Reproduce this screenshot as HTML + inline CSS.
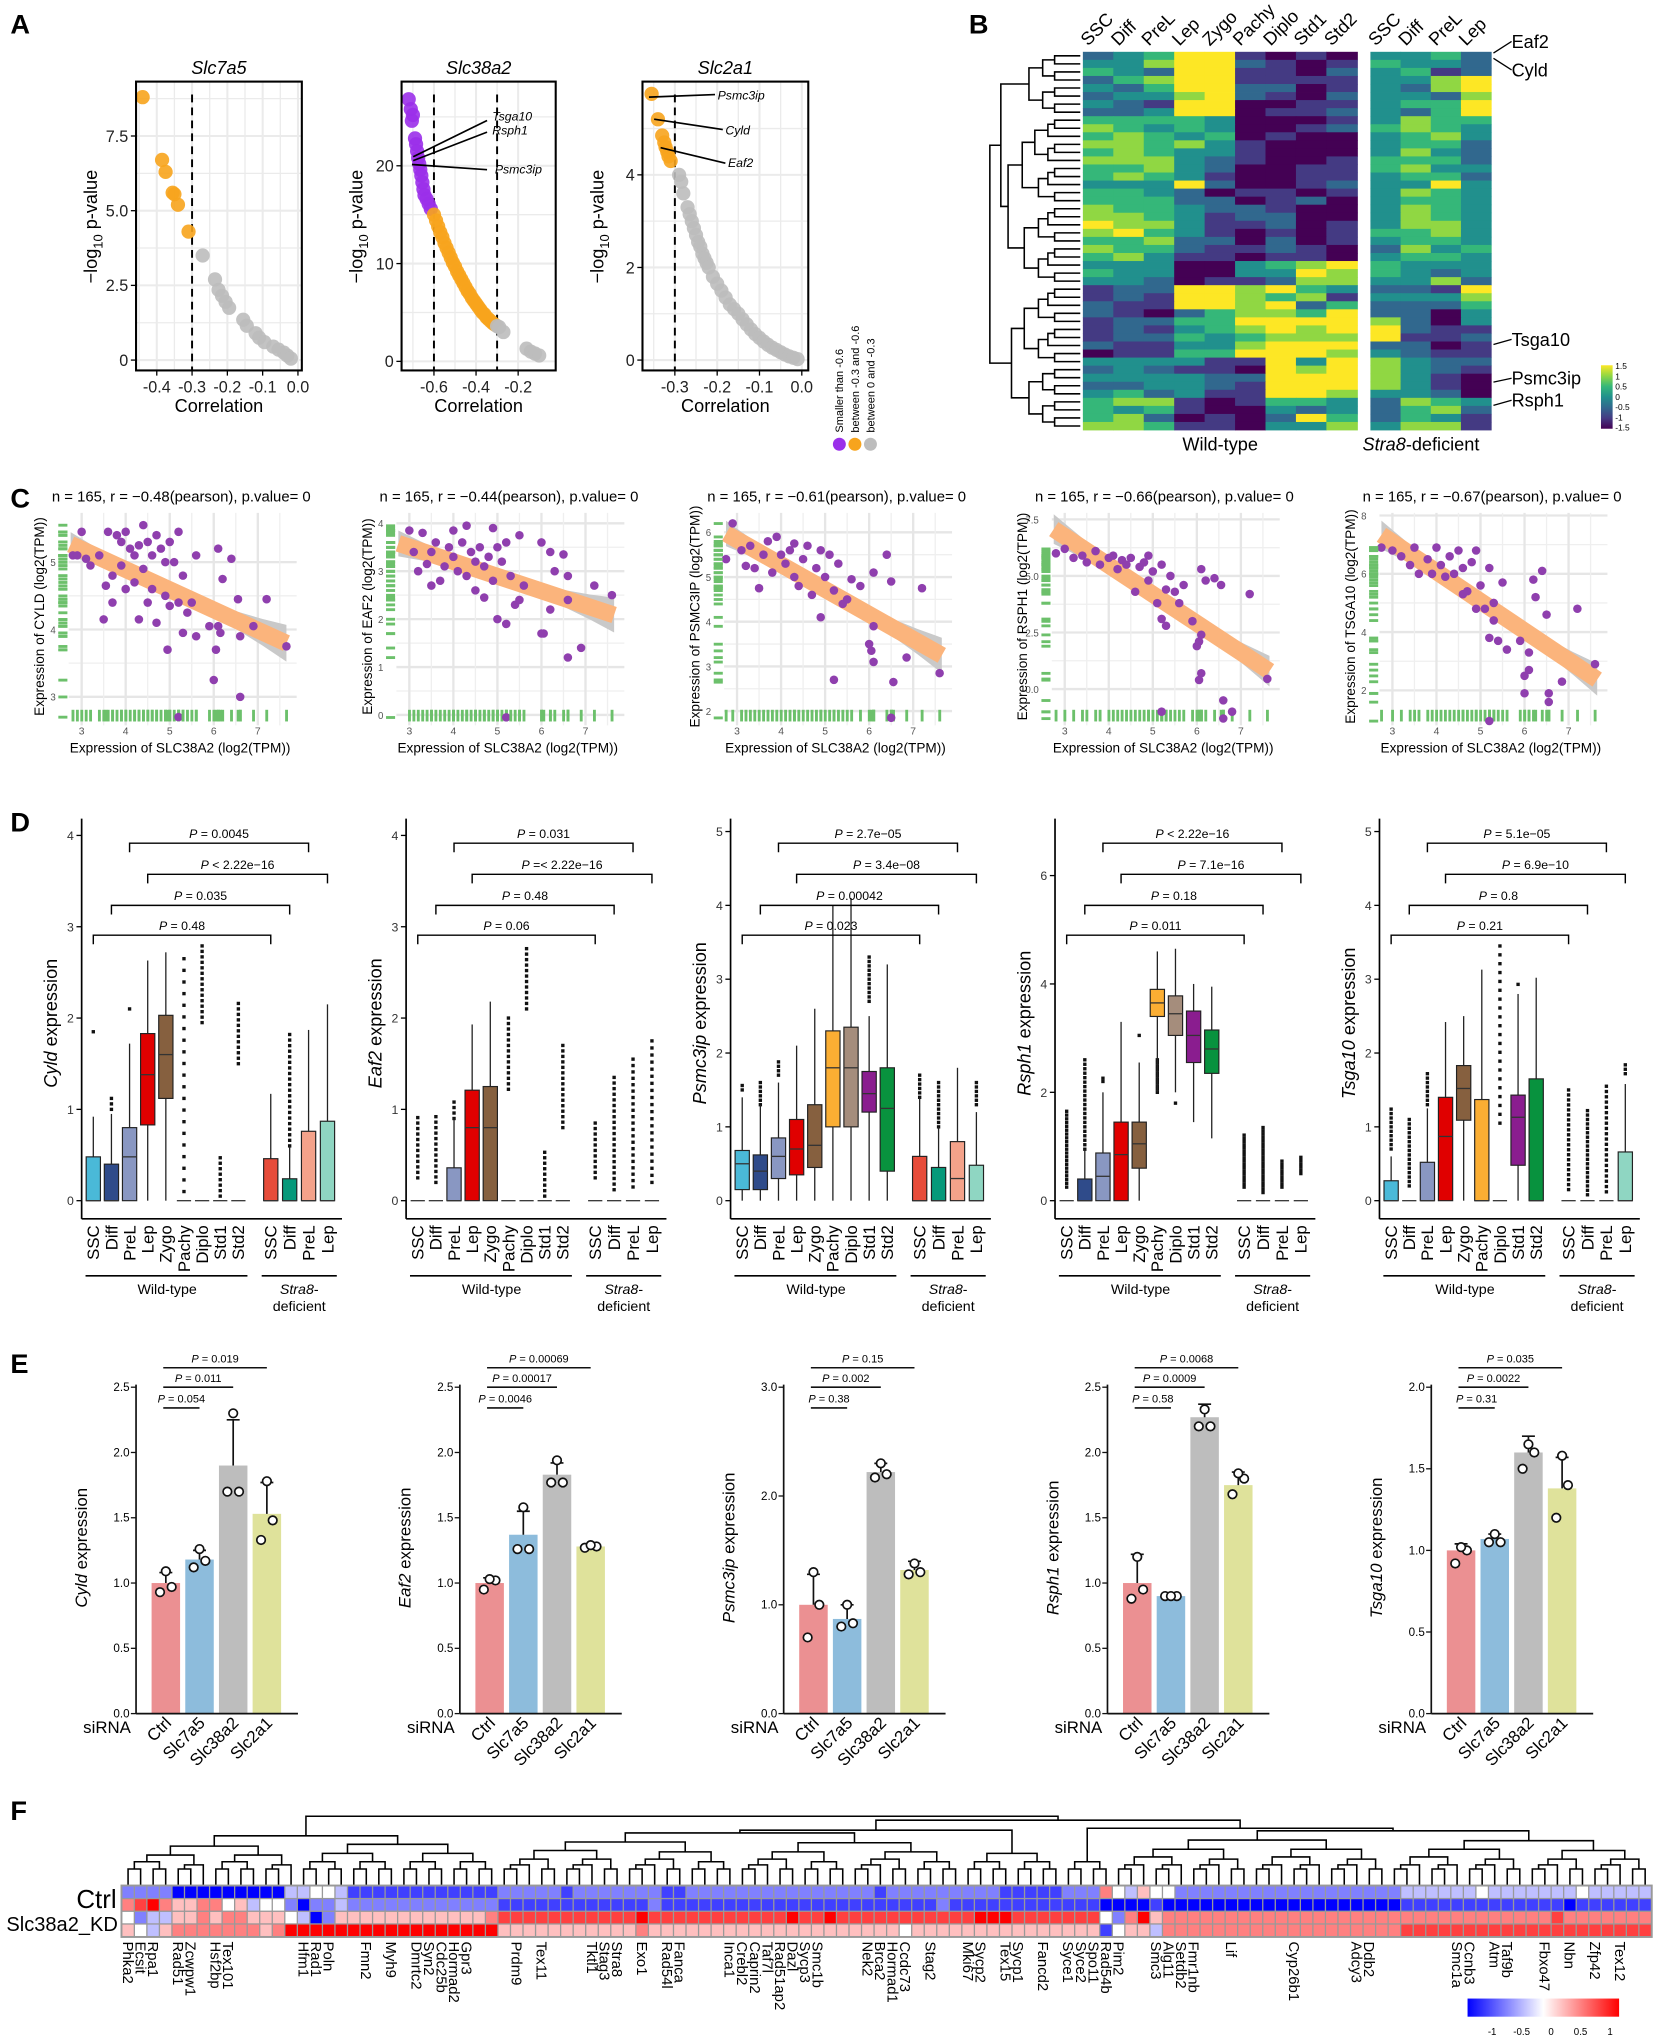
<!DOCTYPE html>
<html><head><meta charset="utf-8"><title>Figure</title>
<style>
html,body{margin:0;padding:0;background:#fff;}
svg{display:block;font-family:"Liberation Sans",Arial,sans-serif;}
</style></head>
<body>
<svg id="fig" xmlns="http://www.w3.org/2000/svg" width="1658" height="2040" viewBox="0 0 1280 1575"></svg>
<script>
// ================= DATA =================
// Panel A
const aSlc7a5Corr=[-0.44,-0.385,-0.375,-0.355,-0.35,-0.34,-0.31,-0.27,-0.235,-0.225,-0.215,-0.205,-0.195,-0.155,-0.145,-0.12,-0.11,-0.095,-0.07,-0.055,-0.04,-0.03,-0.02];
const aSlc7a5LogP=[8.8,6.7,6.3,5.6,5.55,5.2,4.3,3.5,2.7,2.35,2.15,1.95,1.75,1.35,1.15,0.9,0.75,0.6,0.45,0.35,0.25,0.15,0.05];
const aSlc38a2Corr=[-0.72,-0.71,-0.70,-0.705,-0.69,-0.685,-0.68,-0.675,-0.67,-0.665,-0.66,-0.655,-0.65,-0.645,-0.635,-0.625,-0.615,-0.60,-0.59,-0.58,-0.57,-0.56,-0.55,-0.54,-0.53,-0.52,-0.51,-0.50,-0.49,-0.48,-0.47,-0.46,-0.45,-0.44,-0.43,-0.42,-0.41,-0.40,-0.39,-0.38,-0.37,-0.36,-0.35,-0.34,-0.33,-0.32,-0.31,-0.30,-0.29,-0.27,-0.16,-0.14,-0.12,-0.10];
const aSlc38a2LogP=[26.8,25.8,25.2,24.6,22.8,22.2,21.5,20.8,20.2,19.6,19.0,18.3,17.6,17.0,16.6,16.1,15.6,15.0,14.4,13.8,13.2,12.7,12.1,11.6,11.1,10.6,10.1,9.7,9.2,8.8,8.4,8.0,7.6,7.2,6.9,6.5,6.2,5.9,5.6,5.3,5.0,4.8,4.5,4.3,4.1,3.9,3.75,3.6,3.5,3.0,1.3,1.0,0.8,0.6];
const aSlc2a1Corr=[-0.355,-0.34,-0.33,-0.325,-0.322,-0.318,-0.315,-0.31,-0.29,-0.285,-0.28,-0.27,-0.265,-0.26,-0.255,-0.25,-0.245,-0.24,-0.235,-0.23,-0.225,-0.22,-0.21,-0.2,-0.19,-0.18,-0.17,-0.16,-0.15,-0.14,-0.13,-0.12,-0.11,-0.10,-0.09,-0.08,-0.07,-0.06,-0.05,-0.04,-0.03,-0.02,-0.01];
const aSlc2a1LogP=[5.75,5.2,4.85,4.7,4.6,4.5,4.4,4.3,4.0,3.85,3.6,3.3,3.15,3.0,2.85,2.7,2.55,2.45,2.3,2.2,2.1,2.0,1.8,1.65,1.5,1.35,1.2,1.1,1.0,0.88,0.77,0.66,0.56,0.48,0.40,0.33,0.27,0.22,0.17,0.12,0.08,0.05,0.02];
const aXTicks1=[-0.4,-0.3,-0.2,-0.1,0.0], aXTickLabels1=['-0.4','-0.3','-0.2','-0.1','0.0'];
const aYTicks1=[0,2.5,5,7.5], aYTickLabels1=['0','2.5','5.0','7.5'];
const aXTicks2=[-0.6,-0.4,-0.2], aXTickLabels2=['-0.6','-0.4','-0.2'];
const aYTicks2=[0,10,20], aYTickLabels2=['0','10','20'];
const aXTicks3=[-0.3,-0.2,-0.1,0.0], aXTickLabels3=['-0.3','-0.2','-0.1','0.0'];
const aYTicks3=[0,2,4], aYTickLabels3=['0','2','4'];

// Panel B heatmap (levels 0..6 => -1.5..1.5)
const bColumns=['SSC','Diff','PreL','Lep','Zygo','Pachy','Diplo','Std1','Std2','SSC','Diff','PreL','Lep'];
const bRows=["2346610103342","3356621014332","4326611023412","2456611113356","3246622013256","2335621023325","3216600113446","2236601123246",
"4444300013544","5434300124543","4543401003453","5545310003442","4543310003532","5553210014442","4453200114533","4543100113442","3336200123363","4432011013543","4442201203443",
"5443221003543","5543122003543","6553112013553","5643101014453","4452202013443","5442112102534","4531101103443",
"3330034564333","4330033654323","3320112553352",
"1226656432216","1216654513335","2116656242224","2102455462203","1224466665203","1213456566211","1224345556112","2113356662201","0114466653211","3333116365322","2321106565321","3333226665310","2233216665310","3423116653320","4551014432543","4341003232452","4520102642431","5541103353551"];
const bScaleLabels=['1.5','1','0.5','0','-0.5','-1','-1.5'];

// Panel C scatter
const cGenes=['CYLD','EAF2','PSMC3IP','RSPH1','TSGA10'];
const cTitles=['n = 165, r = \u22120.48(pearson), p.value= 0','n = 165, r = \u22120.44(pearson), p.value= 0','n = 165, r = \u22120.61(pearson), p.value= 0','n = 165, r = \u22120.66(pearson), p.value= 0','n = 165, r = \u22120.67(pearson), p.value= 0'];
const cXTicks=[3,4,5,6,7];
const cCyld=[[2.8,5.1],[2.9,5.1],[3.0,5.45],[3.1,5.05],[3.2,4.95],[3.4,5.1],[3.5,4.15],[3.55,4.65],[3.6,5.45],[3.7,4.4],[3.7,4.8],[3.8,5.4],[3.9,5.3],[3.9,4.95],[4.0,5.45],[4.0,4.6],[4.1,5.2],[4.2,5.1],[4.2,4.7],[4.3,5.25],[4.3,4.15],[4.4,5.55],[4.4,4.9],[4.5,4.4],[4.5,5.3],[4.6,4.6],[4.6,5.1],[4.7,4.1],[4.7,5.4],[4.8,5.2],[4.9,4.5],[4.9,5.0],[5.0,5.3],[5.0,4.35],[5.1,5.0],[5.2,5.45],[5.2,4.4],[5.2,2.7],[4.95,3.7],[5.3,4.8],[5.3,3.95],[5.4,4.25],[5.5,4.4],[5.6,5.1],[5.6,3.9],[5.9,4.05],[6.0,3.25],[6.05,3.7],[6.1,4.05],[6.15,3.95],[6.2,4.75],[6.1,5.2],[6.4,5.05],[6.55,4.45],[6.6,3.9],[6.6,3.0],[6.9,4.05],[7.2,4.45],[7.65,3.75]];
const cEaf2=[[3.0,3.85],[3.1,3.4],[3.2,3.0],[3.3,3.8],[3.4,3.15],[3.5,3.4],[3.5,2.7],[3.6,3.6],[3.7,2.8],[3.8,3.1],[3.9,3.5],[4.0,3.85],[4.0,3.3],[4.1,3.0],[4.2,3.6],[4.3,3.95],[4.3,2.9],[4.4,3.4],[4.5,3.2],[4.5,2.6],[4.6,3.5],[4.7,2.45],[4.7,3.1],[4.8,3.3],[4.9,3.9],[4.9,2.8],[5.0,3.5],[5.0,2.0],[5.1,3.2],[5.2,3.6],[5.2,1.9],[5.2,-0.05],[5.3,2.9],[5.4,2.3],[5.5,3.75],[5.5,2.4],[5.6,2.7],[6.0,3.6],[6.0,1.7],[6.05,1.7],[6.2,3.4],[6.2,2.2],[6.3,3.0],[6.5,3.35],[6.6,2.4],[6.6,2.9],[6.6,1.2],[6.9,1.4],[7.2,2.7],[7.6,2.5]];
const cPsmc3ip=[[2.75,5.4],[2.9,6.2],[3.1,5.6],[3.2,5.25],[3.3,5.7],[3.4,5.2],[3.5,4.75],[3.6,5.5],[3.7,5.8],[3.8,5.1],[3.9,5.9],[4.0,5.5],[4.1,5.3],[4.2,5.6],[4.3,5.0],[4.3,5.75],[4.4,4.8],[4.5,5.4],[4.6,5.7],[4.7,4.6],[4.8,5.2],[4.9,5.6],[4.9,4.1],[5.0,5.0],[5.1,5.5],[5.2,4.7],[5.2,2.7],[5.3,5.3],[5.4,4.4],[5.5,4.5],[5.6,4.95],[5.8,4.8],[6.1,5.1],[6.0,3.5],[6.05,3.35],[6.1,3.9],[6.1,3.1],[6.4,5.5],[6.5,4.9],[6.55,2.65],[6.5,1.85],[6.85,3.2],[7.2,4.75],[7.6,2.85]];
const cRsph1=[[2.8,6.0],[3.0,6.2],[3.2,5.8],[3.4,5.9],[3.5,5.6],[3.7,6.1],[3.8,5.5],[4.0,5.8],[4.1,5.9],[4.2,5.3],[4.3,5.7],[4.4,5.5],[4.5,5.8],[4.6,4.3],[4.7,5.4],[4.8,5.6],[4.9,4.8],[4.9,5.9],[5.0,5.2],[5.1,3.8],[5.2,5.5],[5.2,3.1],[5.3,4.4],[5.3,2.8],[5.4,5.0],[5.5,4.3],[5.6,3.8],[5.7,4.6],[5.9,3.0],[6.0,1.9],[6.05,2.1],[6.1,2.4],[6.1,5.3],[6.05,0.4],[6.1,0.7],[6.2,4.8],[6.4,4.9],[6.55,4.6],[6.6,-0.5],[6.6,-1.3],[6.8,-1.0],[7.2,4.2],[7.6,0.45],[5.2,-1.0]];
const cTsga10=[[2.75,6.9],[3.0,6.8],[3.2,6.6],[3.4,6.3],[3.5,6.9],[3.6,6.0],[3.8,6.5],[3.9,6.0],[4.0,6.9],[4.1,6.3],[4.2,5.9],[4.3,6.6],[4.4,6.0],[4.5,6.8],[4.6,5.3],[4.6,6.2],[4.7,5.4],[4.8,6.4],[4.9,4.8],[4.9,6.8],[5.0,5.6],[5.1,4.8],[5.2,6.2],[5.2,3.8],[5.3,5.0],[5.3,4.4],[5.4,3.7],[5.5,5.7],[5.6,3.4],[5.9,3.7],[6.1,3.3],[6.2,5.8],[6.25,5.2],[6.0,2.5],[6.1,2.7],[6.0,1.9],[6.4,6.1],[6.5,4.6],[6.55,1.9],[6.55,1.6],[6.85,2.3],[7.2,4.8],[7.6,2.9],[5.2,0.95]];
const cYTicksCyld=[3,4,5], cYTicksEaf2=[0,1,2,3,4], cYTicksPsmc=[2,3,4,5,6], cYTicksRsph=[0,2.5,5,7.5], cYTicksTsga=[2,4,6,8];
const cYTickLabelsRsph=['0.0','2.5','5.0','7.5'];

// Panel D boxplots: [lowWhisker,q1,median,q3,highWhisker]
const dGroups=['SSC','Diff','PreL','Lep','Zygo','Pachy','Diplo','Std1','Std2','SSC','Diff','PreL','Lep'];
const dGenes=['Cyld','Eaf2','Psmc3ip','Rsph1','Tsga10'];
const dCyldBox=[[0,0,0,0.48,0.92],[0,0,0,0.4,0.95],[0,0,0.48,0.8,1.72],[0,0.83,1.38,1.83,2.63],[0,1.12,1.6,2.03,2.72],[0,0,0,0,0],[0,0,0,0,0],[0,0,0,0,0],[0,0,0,0,0],[0,0,0,0.46,1.17],[0,0,0,0.24,0.6],[0,0,0,0.76,1.87],[0,0,0,0.87,2.15]];
const dCyldOut=[[1.85,1.85],[1.0,1.15],[2.1,2.1],null,null,[0.1,2.65],[1.95,2.8],[0.05,0.5],[1.5,2.18],null,[0.6,1.82],null,null];
const dEaf2Box=[[0,0,0,0,0],[0,0,0,0,0],[0,0,0,0.36,0.9],[0,0,0.8,1.21,1.93],[0,0,0.8,1.25,2.18],[0,0,0,0,0],[0,0,0,0,0],[0,0,0,0,0],[0,0,0,0,0],[0,0,0,0,0],[0,0,0,0,0],[0,0,0,0,0],[0,0,0,0,0]];
const dEaf2Out=[[0.25,0.95],[0.2,0.97],[0.9,1.12],null,null,[1.22,2.05],[2.1,2.78],[0.05,0.55],[0.8,1.72],[0.25,0.88],[0.12,1.35],[0.15,1.55],[0.2,1.75]];
const dPsmcBox=[[0,0.15,0.5,0.68,1.4],[0,0.15,0.4,0.62,1.3],[0,0.3,0.6,0.85,1.6],[0,0.35,0.7,1.1,2.1],[0,0.45,0.75,1.3,2.6],[0,1.0,1.8,2.3,4.0],[0,1.0,1.8,2.35,4.1],[0,1.2,1.45,1.75,2.5],[0,0.4,1.25,1.8,3.2],[0,0,0,0.6,1.4],[0,0,0,0.45,1.0],[0,0,0.3,0.8,1.8],[0,0,0,0.48,1.2]];
const dPsmcOut=[[1.5,1.6],[1.3,1.65],[1.7,1.9],null,null,null,null,[2.7,3.3],null,[1.4,1.7],[1.0,1.6],null,[1.3,1.6]];
const dRsphBox=[[0,0,0,0,0],[0,0,0,0.4,0.95],[0,0,0.45,0.88,2.0],[0,0,0.85,1.45,3.3],[0,0.6,1.05,1.45,2.55],[2.0,3.4,3.65,3.9,4.6],[2.0,3.05,3.45,3.78,4.65],[1.45,2.55,3.05,3.5,4.0],[1.15,2.35,2.8,3.15,3.95],[0,0,0,0,0],[0,0,0,0,0],[0,0,0,0,0],[0,0,0,0,0]];
const dRsphOut=[[0.25,1.65],[0.95,2.6],[2.2,2.3],null,[3.05,3.05],[2.0,2.65],[1.8,1.8],null,null,[0.25,1.25],[0.15,1.35],[0.25,0.75],[0.5,0.85]];
const dTsgaBox=[[0,0,0,0.27,0.6],[0,0,0,0,0],[0,0,0,0.52,1.25],[0,0,0.87,1.4,2.42],[0,1.09,1.52,1.83,2.5],[0,0,0,1.37,3.13],[0,0,0,0,0],[0,0.48,1.13,1.43,2.8],[0,0,0,1.65,3.02],[0,0,0,0,0],[0,0,0,0,0],[0,0,0,0,0],[0,0,0,0.66,1.58]];
const dTsgaOut=[[0.7,1.27],[0.2,1.15],[1.3,1.72],null,null,null,[1.05,3.45],[2.93,2.93],null,[0.15,1.5],[0.08,1.25],[0.12,1.55],[1.72,1.88]];
const dYTicksCyld=[0,1,2,3,4], dYTicksEaf2=[0,1,2,3,4], dYTicksPsmc=[0,1,2,3,4,5], dYTicksRsph=[0,2,4,6], dYTicksTsga=[0,1,2,3,4,5];
const dPLabelsCyld=['= 0.0045','< 2.22e\u221216','= 0.035','= 0.48'];
const dPLabelsEaf2=['= 0.031','=< 2.22e\u221216','= 0.48','= 0.06'];
const dPLabelsPsmc=['= 2.7e\u221205','= 3.4e\u221208','= 0.00042','= 0.023'];
const dPLabelsRsph=['< 2.22e\u221216','= 7.1e\u221216','= 0.18','= 0.011'];
const dPLabelsTsga=['= 5.1e\u221205','= 6.9e\u221210','= 0.8','= 0.21'];
const dPPairs=[[2,11],[3,12],[1,10],[0,9]];

// Panel E bars
const eGroups=['Ctrl','Slc7a5','Slc38a2','Slc2a1'];
const eCyldMean=[1.0,1.18,1.9,1.53], eCyldTop=[1.08,1.25,2.25,1.77], eCyldDots=[[0.93,0.97,1.09],[1.12,1.17,1.26],[1.7,1.7,2.3],[1.33,1.48,1.78]];
const eEaf2Mean=[1.0,1.37,1.83,1.28], eEaf2Top=[1.04,1.55,1.92,1.29], eEaf2Dots=[[0.95,1.02,1.03],[1.26,1.26,1.58],[1.77,1.77,1.94],[1.27,1.28,1.29]];
const ePsmcMean=[1.0,0.87,2.22,1.32], ePsmcTop=[1.28,1.0,2.3,1.4], ePsmcDots=[[0.7,1.0,1.3],[0.8,0.83,1.0],[2.17,2.2,2.3],[1.28,1.3,1.38]];
const eRsphMean=[1.0,0.9,2.27,1.75], eRsphTop=[1.22,0.92,2.37,1.85], eRsphDots=[[0.88,0.95,1.2],[0.9,0.9,0.9],[2.2,2.2,2.33],[1.68,1.8,1.84]];
const eTsgaMean=[1.0,1.07,1.6,1.38], eTsgaTop=[1.04,1.1,1.7,1.57], eTsgaDots=[[0.92,1.0,1.02],[1.05,1.05,1.1],[1.5,1.6,1.65],[1.2,1.4,1.58]];
const ePCyld=['0.054','0.011','0.019'], ePEaf2=['0.0046','0.00017','0.00069'], ePPsmc=['0.38','0.002','0.15'], ePRsph=['0.58','0.0009','0.0068'], ePTsga=['0.31','0.0022','0.035'];
const eYTicks25=[0,0.5,1,1.5,2,2.5], eYTickLabels25=['0.0','0.5','1.0','1.5','2.0','2.5'];
const eYTicks30=[0,1,2,3], eYTickLabels30=['0.0','1.0','2.0','3.0'];
const eYTicks20=[0,0.5,1,1.5,2], eYTickLabels20=['0.0','0.5','1.0','1.5','2.0'];

// Panel F heatmap (levels 0..8 => -1..1)
const fRows=[
"2222"+"000000000"+"33443"+"111111111111"+"222221222222211222222222222222122222222211111222"+"643544"+"222222222222222222"+"33333343333333433333",
"6786"+"556645344"+"20223"+"222222222222"+"111111111111211111111111111111111112111111111111"+"000010"+"000000000000000000"+"11111111111110111111",
"4233"+"556566555"+"43025"+"555555555556"+"777777777778777777777778778777777777778887777777"+"426856"+"666666666666666666"+"66666666666676666666",
"5435"+"666666656"+"88888"+"888888888888"+"555555555556555555555555555555554555555555555555"+"145536"+"666666666666666666"+"77777777777777777777"];
const fGeneLabels=['Phka2','Ecsit','Rpa1','Rad51','Zcwpw1','Hsf2bp','Tex101','Hfm1','Rad1','Poln','Fmn2','Myh9','Dmrtc2','Syn2','Cdc25b','Hormad2','Gpr3','Prdm9','Tex11','Tktl1','Stag3','Stra8','Exo1','Rad54l','Fanca','Inca1','Crebl2','Caprin2','Taf7l','Rad51ap2','Dazl','Sycp3','Smc1b','Nek2','Brca2','Hormad1','Ccdc73','Stag2','Mki67','Sycp2','Tex15','Sycp1','Fancd2','Syce1','Syce2','Spo11','Rad54b','Pim2','Smc3','Alg11','Setdb2','Fmr1nb','Lif','Cyp26b1','Adcy3','Ddb2','Smc1a','Ccnb3','Atm','Taf9b','Fbxo47','Nbn','Zfp42','Tex12'];
const fGeneCols=[0,1,2,4,5,7,8,14,15,16,19,21,23,24,25,26,27,31,33,37,38,39,41,43,44,48,49,50,51,52,53,54,55,59,60,61,62,64,67,68,70,71,73,75,76,77,78,79,82,83,84,85,88,93,98,99,106,107,109,110,113,115,117,119];
const fScaleTicks=[-1,-0.5,0,0.5,1], fScaleLabels=['-1','-0.5','0','0.5','1'];

// ================= DRAWING =================
const NS='http://www.w3.org/2000/svg';
const svg=document.getElementById('fig');
function mk(tag,attrs,parent,text){const e=document.createElementNS(NS,tag);for(const k in attrs)e.setAttribute(k,attrs[k]);if(text!==undefined)e.textContent=text;(parent||svg).appendChild(e);return e;}
function lin(d0,d1,r0,r1){return v=>r0+(v-d0)*(r1-r0)/(d1-d0);}

[['A',8,26],['B',748,26],['C',8,392],['D',8,642],['E',8,1060],['F',8,1405]].forEach(p=>{
  const t=mk('text',{x:p[1],y:p[2],'font-size':21,'font-weight':'bold'},svg,p[0]);
  
  
});

// ---------- Panel A ----------
const aCfg=[
 {title:'Slc7a5',corr:aSlc7a5Corr,lp:aSlc7a5LogP,fx0:105,fx1:233,sx:lin(-0.4,0,121,230),sy:lin(0,7.5,278,105),xt:aXTicks1,xl:aXTickLabels1,yt:aYTicks1,yl:aYTickLabels1,dash:[-0.3],minorY:1.25,minorX:0.05},
 {title:'Slc38a2',corr:aSlc38a2Corr,lp:aSlc38a2LogP,fx0:310,fx1:429,sx:lin(-0.6,-0.2,335,400),sy:lin(0,20,279,128),xt:aXTicks2,xl:aXTickLabels2,yt:aYTicks2,yl:aYTickLabels2,dash:[-0.6,-0.3],minorY:5,minorX:0.1},
 {title:'Slc2a1',corr:aSlc2a1Corr,lp:aSlc2a1LogP,fx0:496,fx1:624,sx:lin(-0.3,0,521,619),sy:lin(0,4,278,135),xt:aXTicks3,xl:aXTickLabels3,yt:aYTicks3,yl:aYTickLabels3,dash:[-0.3],minorY:1,minorX:0.05}];
aCfg.forEach((c,pi)=>{
  const g=mk('g',{},svg);
  
  
  const fy0=63,fy1=286;
  c.yt.forEach(v=>{[v,v+c.minorY].forEach((vv,k)=>{const y=c.sy(vv);if(y>fy0&&y<fy1){const l=mk('line',{x1:c.fx0,x2:c.fx1,y1:y,y2:y,stroke:'#ebebeb','stroke-width':k?1:1.6},g);}});});
  c.xt.forEach(v=>{[v,v-c.minorX].forEach((vv,k)=>{const x=c.sx(vv);if(x>c.fx0&&x<c.fx1){const l=mk('line',{x1:x,x2:x,y1:fy0,y2:fy1,stroke:'#ebebeb','stroke-width':k?1:1.6},g);}});});
  c.dash.forEach(v=>{const l=mk('line',{x1:c.sx(v),x2:c.sx(v),y1:fy0+10,y2:fy1,stroke:'#000','stroke-width':1.5,'stroke-dasharray':'6,4'},g);});
  c.corr.forEach((v,i)=>{
    const col=v<-0.6?'#9b30ea':(v<-0.3?'#f7a41d':'#bdbdbd');
    const p=mk('circle',{cx:c.sx(v),cy:c.sy(c.lp[i]),r:5.5,fill:col,'fill-opacity':0.9},g);
    
    
  });
  const fr=mk('rect',{x:c.fx0,y:fy0,width:c.fx1-c.fx0,height:fy1-fy0,fill:'none',stroke:'#000','stroke-width':1.6},g);
  
  c.xt.forEach((v,i)=>{const x=c.sx(v);mk('line',{x1:x,x2:x,y1:fy1,y2:fy1+4,stroke:'#000'},g);const t=mk('text',{x:x,y:fy1+17,'font-size':12.5,'text-anchor':'middle',fill:'#222'},g,c.xl[i]);});
  c.yt.forEach((v,i)=>{const y=c.sy(v);mk('line',{x1:c.fx0-4,x2:c.fx0,y1:y,y2:y,stroke:'#000'},g);const t=mk('text',{x:c.fx0-6,y:y+4.5,'font-size':12.5,'text-anchor':'end',fill:'#222'},g,c.yl[i]);});
  const tt=mk('text',{x:(c.fx0+c.fx1)/2,y:57,'font-size':14,'font-style':'italic','text-anchor':'middle'},g,c.title);
  
  const xl=mk('text',{x:(c.fx0+c.fx1)/2,y:318,'font-size':14,'text-anchor':'middle'},g,'Correlation');
  
  const yl=mk('text',{x:0,y:0,'font-size':14,'text-anchor':'middle',transform:`translate(${c.fx0-30},175) rotate(-90)`},g);
  
  mk('tspan',{},yl,'\u2212log');mk('tspan',{'font-size':10,dy:4},yl,'10');mk('tspan',{dy:-4},yl,' p-value');
});
[[319,121,376,93,380,93,'Tsga10'],[319,124,376,102,380,104,'Rsph1'],[318,127,376,131,382,134,'Psmc3ip'],[501,75,552,73,554,77,'Psmc3ip'],[505,92,558,100,560,104,'Cyld'],[510,114,560,126,562,129,'Eaf2']].forEach(a=>{
  const l=mk('line',{x1:a[0],y1:a[1],x2:a[2],y2:a[3],stroke:'#000','stroke-width':1.3});
  
  const t=mk('text',{x:a[4],y:a[5],'font-size':9.5,'font-style':'italic'},svg,a[6]);
  
});
[['#9b30ea','Smaller than -0.6'],['#f7a41d','between -0.3 and -0.6'],['#bdbdbd','between 0 and -0.3']].forEach((d,i)=>{
  const x=648+12*i;
  const c=mk('circle',{cx:x,cy:343,r:5,fill:d[0]});
  
  const t=mk('text',{x:0,y:0,'font-size':8.5,transform:`translate(${x+3},334) rotate(-90)`},svg,d[1]);
  
});

// ---------- Panel B ----------
const viridis=['#440154','#443a83','#31688e','#21908d','#35b779','#90d743','#fde725'];
const bTop=40,bBot=332,bRowH=(bBot-bTop)/bRows.length;
const bColX=[836,859.5,883,906.5,930,953.5,977,1000.5,1024,1058,1081.3,1104.6,1127.9];
const bColW=[23.6,23.6,23.6,23.6,23.6,23.6,23.6,23.6,24,23.4,23.4,23.4,23.4];
const gB=mk('g',{},svg);

bRows.forEach((row,r)=>{for(let c=0;c<bColumns.length;c++){const lv=parseInt(row.charAt(c));if(isNaN(lv))continue;
  const cell=mk('rect',{x:bColX[c],y:bTop+r*bRowH,width:bColW[c]+0.3,height:bRowH+0.3,fill:viridis[lv]},gB);
  }});
bColumns.forEach((n,c)=>{const x=bColX[c]+4;const t=mk('text',{x:0,y:0,'font-size':14,transform:`translate(${x},36) rotate(-45)`},svg,n);});
function tree(lo,hi,leafPos,base,scale,dir,splits){
  if(lo===hi)return {p:leafPos(lo),h:base};
  const n=hi-lo+1;
  const m=(splits[lo+'-'+hi]!==undefined)?splits[lo+'-'+hi]:Math.floor((lo+hi)/2);
  const a=tree(lo,m,leafPos,base,scale,dir,splits),b=tree(m+1,hi,leafPos,base,scale,dir,splits);
  const h=base-dir*scale*Math.log2(n+1);
  const hh=Math.min(h,a.h-2,b.h-2);
  return {p:(a.p+b.p)/2,h:hh,a,b};
}
function drawTree(node,horiz,g,name){
  if(!node.a)return;
  const d=horiz?`M${node.a.h},${node.a.p}H${node.h}V${node.b.p}H${node.b.h}`:`M${node.a.p},${node.a.h}V${node.h}H${node.b.p}V${node.b.h}`;
  const p=mk('path',{d:d,fill:'none',stroke:'#000','stroke-width':1.2},g);
  
  
  drawTree(node.a,horiz,g,name);drawTree(node.b,horiz,g,name);
}
const bTree=tree(0,bRows.length-1,i=>bTop+(i+0.5)*bRowH,834,12.5,1,{'0-46':28,'0-28':7,'29-46':38});
drawTree(bTree,true,svg,'row-dendrogram');
const wt=mk('text',{x:942,y:348,'font-size':14,'text-anchor':'middle'},svg,'Wild-type');

const st=mk('text',{x:1097,y:348,'font-size':14,'text-anchor':'middle'},svg);

mk('tspan',{'font-style':'italic'},st,'Stra8');mk('tspan',{},st,'-deficient');
[['Eaf2',41,36],['Cyld',45,58],['Tsga10',266,266],['Psmc3ip',295,296],['Rsph1',313,313]].forEach(d=>{
  const l=mk('line',{x1:1153,y1:d[1],x2:1167,y2:d[2]-4,stroke:'#000'});
  
  const t=mk('text',{x:1167,y:d[2]+1,'font-size':14},svg,d[0]);
  
});
const gradB=mk('linearGradient',{id:'vir',x1:0,y1:1,x2:0,y2:0},mk('defs',{}));
viridis.forEach((c,i)=>mk('stop',{offset:(i/6*100)+'%','stop-color':c},gradB));
const cbB=mk('rect',{x:1236,y:282,width:9,height:49,fill:'url(#vir)'});

bScaleLabels.forEach((s,i)=>{const t=mk('text',{x:1247,y:285+i*7.9,'font-size':6.5},svg,s);});

// ---------- Panel C ----------
const cData=[cCyld,cEaf2,cPsmc3ip,cRsph1,cTsga10];
const cY=[lin(5,4,434,486),lin(4,0,404,552),lin(6,2,411,549),lin(7.5,0,401,532),lin(8,2,398,533)];
const cYT=[cYTicksCyld,cYTicksEaf2,cYTicksPsmc,cYTicksRsph,cYTicksTsga];
const cYL=[cYTicksCyld.map(String),cYTicksEaf2.map(String),cYTicksPsmc.map(String),cYTickLabelsRsph,cYTicksTsga.map(String)];
cData.forEach((pts,k)=>{
  const ox=253*k, sx=lin(3,7,ox+63,ox+199), sy=cY[k];
  const g=mk('g',{},svg);
  
  
  const left=ox+53,right=ox+229,top=396,bot=560;
  cYT[k].forEach((v,i)=>{const y=sy(v);mk('line',{x1:left,x2:right,y1:y,y2:y,stroke:'#e6e6e6','stroke-width':1.8},g);
    if(i<cYT[k].length-1){const y2=(y+sy(cYT[k][i+1]))/2;mk('line',{x1:left,x2:right,y1:y2,y2:y2,stroke:'#efefef','stroke-width':1},g);}
    const t=mk('text',{x:left-10,y:y+3,'font-size':7.5,'text-anchor':'end',fill:'#555'},g,cYL[k][i]);});
  cXTicks.forEach((v,i)=>{const x=sx(v);mk('line',{x1:x,x2:x,y1:top,y2:bot,stroke:'#e6e6e6','stroke-width':1.8},g);mk('line',{x1:x+17,x2:x+17,y1:top,y2:bot,stroke:'#efefef','stroke-width':1},g);
    const t=mk('text',{x:x,y:567,'font-size':8,'text-anchor':'middle',fill:'#555'},g,String(v));});
  const n=pts.length;let mx=0,my=0;pts.forEach(p=>{mx+=p[0];my+=p[1];});mx/=n;my/=n;
  let sxy=0,sxx=0;pts.forEach(p=>{sxy+=(p[0]-mx)*(p[1]-my);sxx+=(p[0]-mx)*(p[0]-mx);});
  const b=sxy/sxx,a=my-b*mx;
  const xs=[2.75,3.5,4.25,5,5.75,6.5,7.1,7.65];
  const ci=x=>3+9*Math.pow((x-mx)/2.5,2);
  const upG=xs.map(x=>[sx(x),sy(a+b*x)-ci(x)]),dnG=xs.map(x=>[sx(x),sy(a+b*x)+ci(x)]).reverse();
  const gp=mk('polygon',{points:upG.concat(dnG).map(p=>p.join(',')).join(' '),fill:'#c9c9c9'},g);
  
  const fl=mk('line',{x1:sx(2.75),y1:sy(a+b*2.75),x2:sx(7.65),y2:sy(a+b*7.65),stroke:'#fbb47c','stroke-width':13},g);
  
  pts.forEach(p=>{
    const r1=mk('rect',{x:ox+45,y:sy(p[1])-1,width:7,height:2.2,fill:'#6cc06b'},g);
    
    const r2=mk('rect',{x:sx(p[0])-1,y:548,width:2.2,height:9,fill:'#6cc06b'},g);
    
    const c=mk('circle',{cx:sx(p[0]),cy:sy(p[1]),r:3.3,fill:'#8f3fae'},g);
    
  });
  const tt=mk('text',{x:ox+40,y:387,'font-size':11.5},g,cTitles[k]);
  
  const xl=mk('text',{x:ox+139,y:581,'font-size':10.5,'text-anchor':'middle'},g,'Expression of SLC38A2 (log2(TPM))');
  
  const yl=mk('text',{x:0,y:0,'font-size':10.5,'text-anchor':'middle',transform:`translate(${ox+34},476) rotate(-90)`},g,'Expression of '+cGenes[k]+' (log2(TPM))');
  
});

// ---------- Panel D ----------
const dColors=['#4ab9d8','#2f4b8a','#8997c2','#e00000','#86603f','#fbae33','#a58d7c','#8a1d8f','#08923e','#e74c3a','#06997a','#f4a28a','#8fd6c2'];
const dBoxes=[dCyldBox,dEaf2Box,dPsmcBox,dRsphBox,dTsgaBox];
const dOuts=[dCyldOut,dEaf2Out,dPsmcOut,dRsphOut,dTsgaOut];
const dUnits=[[4,645],[4,645],[5,642],[6,676],[5,642]];
const dYT=[dYTicksCyld,dYTicksEaf2,dYTicksPsmc,dYTicksRsph,dYTicksTsga];
const dPL=[dPLabelsCyld,dPLabelsEaf2,dPLabelsPsmc,dPLabelsRsph,dPLabelsTsga];
dGenes.forEach((gene,k)=>{
  const ax=63+250.5*k, sy=lin(0,dUnits[k][0],927,dUnits[k][1]);
  const cx=i=>i<9?ax+9+14*i:ax+146+14.6*(i-9);
  const g=mk('g',{},svg);
  
  
  mk('line',{x1:ax,x2:ax,y1:632,y2:941,stroke:'#000','stroke-width':1.3},g);
  mk('line',{x1:ax,x2:ax+201,y1:941,y2:941,stroke:'#000','stroke-width':1.3},g);
  dYT[k].forEach(v=>{const y=sy(v);mk('line',{x1:ax-4,x2:ax,y1:y,y2:y,stroke:'#000'},g);const t=mk('text',{x:ax-6,y:y+3.5,'font-size':9.5,'text-anchor':'end',fill:'#333'},g,String(v));});
  dBoxes[k].forEach((bx,i)=>{
    const x=cx(i),w=11;
    const o=dOuts[k][i];
    if(o){const step=Math.max(0.06,(o[1]-o[0])/20);for(let v=o[0];v<=o[1]+1e-6;v+=step){const s=mk('rect',{x:x-1.3,y:sy(v)-1.3,width:2.6,height:2.6,fill:'#111'},g);}}
    if(bx[4]>bx[3]){const wl=mk('line',{x1:x,x2:x,y1:sy(bx[3]),y2:sy(bx[4]),stroke:'#222','stroke-width':1},g);}
    if(bx[1]>bx[0]){mk('line',{x1:x,x2:x,y1:sy(bx[0]),y2:sy(bx[1]),stroke:'#222','stroke-width':1},g);}
    if(bx[3]>bx[1]){const r=mk('rect',{x:x-w/2,y:sy(bx[3]),width:w,height:sy(bx[1])-sy(bx[3]),fill:dColors[i],stroke:'#222','stroke-width':0.9},g);}
    const ml=mk('line',{x1:x-w/2,x2:x+w/2,y1:sy(bx[2]),y2:sy(bx[2]),stroke:'#333','stroke-width':1},g);
    
    const t=mk('text',{x:0,y:0,'font-size':13,'text-anchor':'end',transform:`translate(${x+4.5},946) rotate(-90)`},g,dGroups[i]);
    
  });
  dPPairs.forEach((pp,j)=>{
    const y=[651,675,699,722][j],x1=cx(pp[0]),x2=cx(pp[1]);
    const br=mk('path',{d:`M${x1},${y+7}V${y}H${x2}V${y+7}`,fill:'none',stroke:'#000','stroke-width':1.1},g);
    
    const t=mk('text',{x:(x1+x2)/2,y:y-4,'font-size':9.5,'text-anchor':'middle'},g);
    
    mk('tspan',{'font-style':'italic'},t,'P');mk('tspan',{},t,' '+dPL[k][j]);
  });
  mk('line',{x1:ax+3,x2:ax+128,y1:985,y2:985,stroke:'#000','stroke-width':1.3},g);
  mk('line',{x1:ax+139,x2:ax+197,y1:985,y2:985,stroke:'#000','stroke-width':1.3},g);
  const w1=mk('text',{x:ax+66,y:999,'font-size':11,'text-anchor':'middle'},g,'Wild-type');
  
  const s1=mk('text',{x:ax+168,y:999,'font-size':11,'text-anchor':'middle'},g);
  
  mk('tspan',{'font-style':'italic'},s1,'Stra8');mk('tspan',{},s1,'-');
  const s2=mk('text',{x:ax+168,y:1012,'font-size':11,'text-anchor':'middle'},g,'deficient');
  
  const yl=mk('text',{x:0,y:0,'font-size':14,'text-anchor':'middle',transform:`translate(${ax-19},790) rotate(-90)`},g);
  
  mk('tspan',{'font-style':'italic'},yl,gene);mk('tspan',{},yl,' expression');
});

// ---------- Panel E ----------
const eColors=['#eb9092','#8dbcdc','#bdbdbd','#dfe29b'];
const eMeans=[eCyldMean,eEaf2Mean,ePsmcMean,eRsphMean,eTsgaMean];
const eTops=[eCyldTop,eEaf2Top,ePsmcTop,eRsphTop,eTsgaTop];
const eDots=[eCyldDots,eEaf2Dots,ePsmcDots,eRsphDots,eTsgaDots];
const eP=[ePCyld,ePEaf2,ePPsmc,ePRsph,ePTsga];
const eTicks=[[eYTicks25,eYTickLabels25,2.5],[eYTicks25,eYTickLabels25,2.5],[eYTicks30,eYTickLabels30,3.0],[eYTicks25,eYTickLabels25,2.5],[eYTicks20,eYTickLabels20,2.0]];
const eGenes=['Cyld','Eaf2','Psmc3ip','Rsph1','Tsga10'];
const dotOff=[-4.5,4.5,0];
eGenes.forEach((gene,k)=>{
  const ax=105+250*k, sy=lin(0,eTicks[k][2],1323,1071);
  const cx=i=>ax+23+26*i;
  const g=mk('g',{},svg);
  
  
  eMeans[k].forEach((m,i)=>{
    const r=mk('rect',{x:cx(i)-11,y:sy(m),width:22,height:1323-sy(m),fill:eColors[i]},g);
    
    const e=mk('path',{d:`M${cx(i)},${sy(m)}V${sy(eTops[k][i])}M${cx(i)-5},${sy(eTops[k][i])}H${cx(i)+5}`,stroke:'#111','stroke-width':1.3,fill:'none'},g);
    
    eDots[k][i].forEach((v,j)=>{const c=mk('circle',{cx:cx(i)+dotOff[j],cy:sy(v),r:3.3,fill:'#fff',stroke:'#111','stroke-width':1.3},g);});
    const t=mk('text',{x:0,y:0,'font-size':13,'text-anchor':'end',transform:`translate(${cx(i)+5},1331) rotate(-45)`},g,eGroups[i]);
    
  });
  mk('line',{x1:ax,x2:ax,y1:1069,y2:1323,stroke:'#111','stroke-width':1.3},g);
  mk('line',{x1:ax,x2:ax+125,y1:1323,y2:1323,stroke:'#111','stroke-width':1.3},g);
  eTicks[k][0].forEach((v,i)=>{const y=sy(v);mk('line',{x1:ax-4,x2:ax,y1:y,y2:y,stroke:'#111'},g);const t=mk('text',{x:ax-5,y:y+3,'font-size':9,'text-anchor':'end'},g,eTicks[k][1][i]);});
  [1087,1071,1056].forEach((y,j)=>{
    const x2=cx(j+1);
    const l=mk('line',{x1:ax+21,x2:x2,y1:y,y2:y,stroke:'#111','stroke-width':1.2},g);
    
    const t=mk('text',{x:(ax+21+x2)/2,y:y-4,'font-size':8.5,'text-anchor':'middle'},g);
    
    mk('tspan',{'font-style':'italic'},t,'P');mk('tspan',{},t,' = '+eP[k][j]);
  });
  const sl=mk('text',{x:ax-4,y:1338,'font-size':13,'text-anchor':'end'},g,'siRNA');
  
  const yl=mk('text',{x:0,y:0,'font-size':13,'text-anchor':'middle',transform:`translate(${ax-38},1195) rotate(-90)`},g);
  
  mk('tspan',{'font-style':'italic'},yl,gene);mk('tspan',{},yl,' expression');
});

// ---------- Panel F ----------
const fX0=94,fCW=9.68,fY0=1456,fRH=9.8;
function bwr(lv){const t=lv/8;let r,g,b;if(t<0.5){const u=t/0.5;r=Math.round(255*u);g=Math.round(255*u);b=255;}else{const u=(t-0.5)/0.5;r=255;g=Math.round(255*(1-u));b=Math.round(255*(1-u));}return `rgb(${r},${g},${b})`;}
const gF=mk('g',{},svg);

mk('rect',{x:fX0-1,y:fY0-1,width:fCW*122+2,height:fRH*4+2,fill:'#999'},gF);
fRows.forEach((row,r)=>{for(let c=0;c<row.length;c++){const lv=parseInt(row.charAt(c));
  const cell=mk('rect',{x:fX0+c*fCW+0.5,y:fY0+r*fRH+0.5,width:fCW-1,height:fRH-1,fill:bwr(lv)},gF);
  }});
const ct=mk('text',{x:90,y:1473,'font-size':20,'text-anchor':'end'},svg,'Ctrl');

const kd=mk('text',{x:91,y:1491,'font-size':15.5,'text-anchor':'end'},svg,'Slc38a2_KD');

fGeneLabels.forEach((n,i)=>{const x=fX0+(fGeneCols[i]+0.5)*fCW-4;
  const t=mk('text',{x:0,y:0,'font-size':11.5,transform:`translate(${x},1499) rotate(90)`},svg,n);
  });
const fTree=tree(0,121,i=>fX0+(i+0.5)*fCW,1455,7.6,1,{'0-121':29,'0-29':13,'30-121':74,'30-74':66,'75-121':78});
drawTree(fTree,false,svg,'column-dendrogram');
const gradF=mk('linearGradient',{id:'bwr',x1:0,y1:0,x2:1,y2:0},mk('defs',{}));
mk('stop',{offset:'0%','stop-color':'#0000ff'},gradF);mk('stop',{offset:'50%','stop-color':'#ffffff'},gradF);mk('stop',{offset:'100%','stop-color':'#ff0000'},gradF);
const cbF=mk('rect',{x:1133,y:1543,width:117,height:14,fill:'url(#bwr)'});

const fsx=lin(-1,1,1152,1243);
fScaleTicks.forEach((v,i)=>{const t=mk('text',{x:fsx(v),y:1571,'font-size':7.5,'text-anchor':'middle'},svg,fScaleLabels[i]);});
</script>
</body></html>
